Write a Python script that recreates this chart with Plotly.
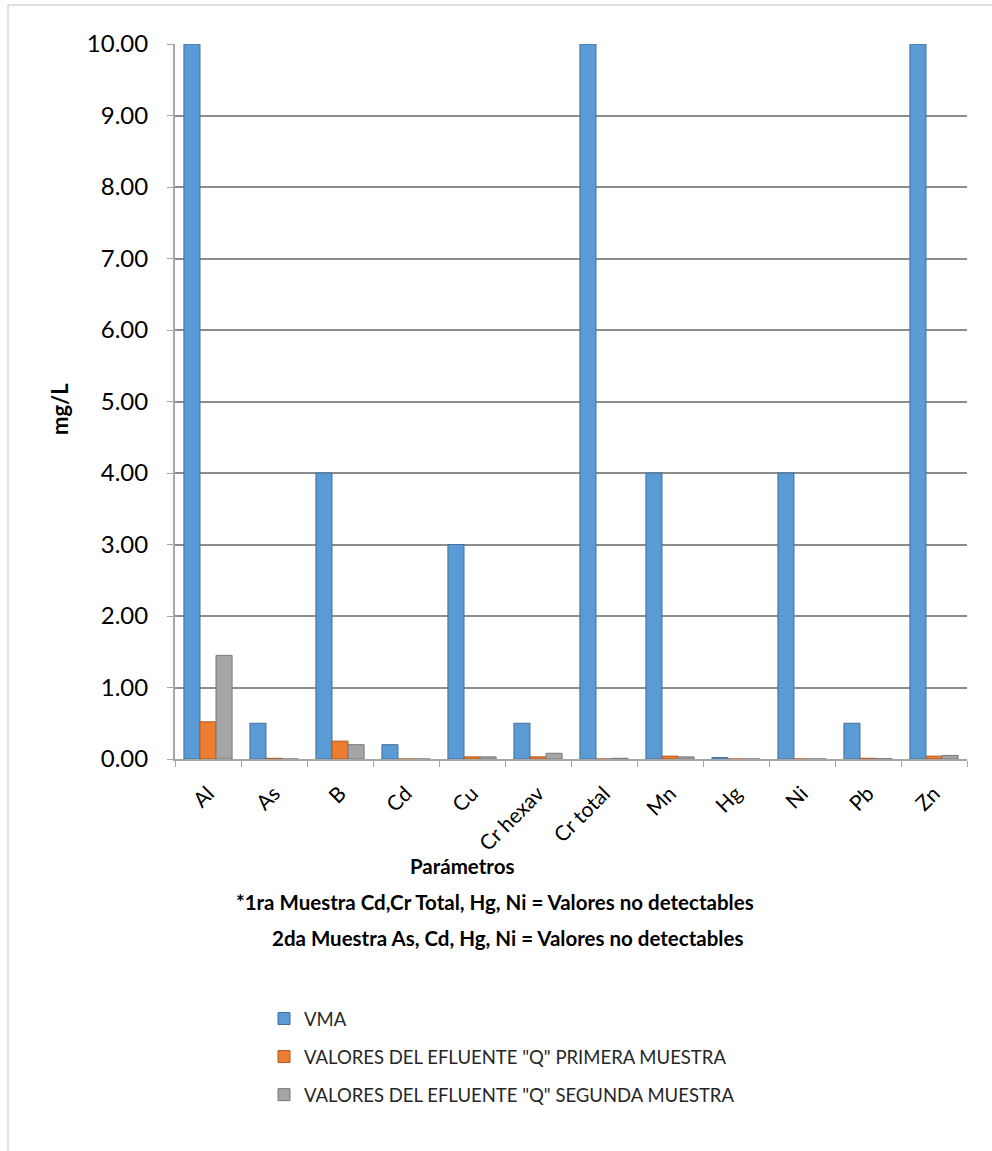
import plotly.graph_objects as go

# Parameters analysed (mg/L)
categories = ["Al", "As", "B", "Cd", "Cu", "Cr hexav", "Cr total", "Mn", "Hg", "Ni", "Pb", "Zn"]
vma = [10, 0.5, 4, 0.2, 3, 0.5, 10, 4, 0.02, 4, 0.5, 10]
primera = [0.52, 0.01, 0.25, 0, 0.03, 0.03, 0, 0.04, 0, 0, 0.01, 0.04]
segunda = [1.45, 0, 0.2, 0, 0.03, 0.08, 0.01, 0.03, 0, 0, 0.005, 0.05]

series_names = [
    "VMA",
    "VALORES DEL EFLUENTE \"Q\" PRIMERA MUESTRA",
    "VALORES DEL EFLUENTE \"Q\" SEGUNDA MUESTRA",
]
series_values = [vma, primera, segunda]
fill_colors = ["#5b9bd5", "#ed7d31", "#a5a5a5"]
edge_colors = ["#41719c", "#ae5a21", "#787878"]

W, H = 992, 1151
L, R, T, B = 175, 25, 44, 392
plot_w = W - L - R
plot_h = H - T - B

FONT = "Lato, Carlito, Calibri, sans-serif"

fig = go.Figure()
for i, (name, vals) in enumerate(zip(series_names, series_values)):
    fig.add_trace(go.Bar(
        x=categories, y=vals, name=name,
        marker=dict(color=fill_colors[i], line=dict(color=edge_colors[i], width=1)),
        legendgroup=f"g{i}",
    ))


def px_to_paper_x(px):
    return (px - L) / plot_w


def px_to_paper_y(py):
    return (H - B - py) / plot_h


def note(text, cx, cy, size, angle=0):
    return dict(text=text, x=px_to_paper_x(cx), y=px_to_paper_y(cy),
                xref="paper", yref="paper", xanchor="center", yanchor="middle",
                showarrow=False, textangle=angle,
                font=dict(size=size, color="#000000", family=FONT))


annotations = [
    note("<b>mg/L</b>", 60, 409, 22, angle=-90),
    note("<b>Parámetros</b>", 462, 866, 20.5),
    note("<b>*1ra Muestra Cd,Cr Total, Hg, Ni = Valores no detectables</b>", 495, 902, 20.5),
    note("<b>2da Muestra As, Cd, Hg, Ni = Valores no detectables</b>", 507, 938, 20.5),
]

# Chart-area frame (left and top edges)
frame = dict(
    type="path", xref="paper", yref="paper",
    path=(f"M {px_to_paper_x(8)} {px_to_paper_y(H + 10)} "
          f"L {px_to_paper_x(8)} {px_to_paper_y(5)} "
          f"L {px_to_paper_x(W + 10)} {px_to_paper_y(5)}"),
    line=dict(color="#bfbfbf", width=1),
)

fig.update_layout(
    width=W, height=H,
    margin=dict(l=L, r=R, t=T, b=B, autoexpand=False),
    paper_bgcolor="white", plot_bgcolor="white",
    barmode="group", bargap=0.27, bargroupgap=0,
    font=dict(family=FONT, color="#000000"),
    xaxis=dict(
        tickangle=-45, tickfont=dict(size=21, color="#000000"),
        showline=True, linecolor="#a6a6a6", linewidth=2,
        ticks="outside", tickson="boundaries", ticklen=6, tickcolor="#a6a6a6",
        ticklabelstandoff=12,
        showgrid=False,
    ),
    yaxis=dict(
        range=[0, 10], dtick=1, tickformat=".2f",
        tickfont=dict(size=24, color="#000000"),
        showgrid=True, gridcolor="#8c8c8c", gridwidth=2,
        showline=True, linecolor="#a6a6a6", linewidth=2,
        ticks="outside", ticklen=6, tickcolor="#a6a6a6",
        ticklabelstandoff=14, zeroline=False,
    ),
    legend=dict(
        x=px_to_paper_x(264), y=px_to_paper_y(1000),
        xanchor="left", yanchor="top",
        font=dict(size=18.5, color="#262626", family=FONT),
        traceorder="grouped", tracegroupgap=11,
        bgcolor="rgba(0,0,0,0)",
    ),
    annotations=annotations,
    shapes=[frame],
)

fig.write_html("out.html")
